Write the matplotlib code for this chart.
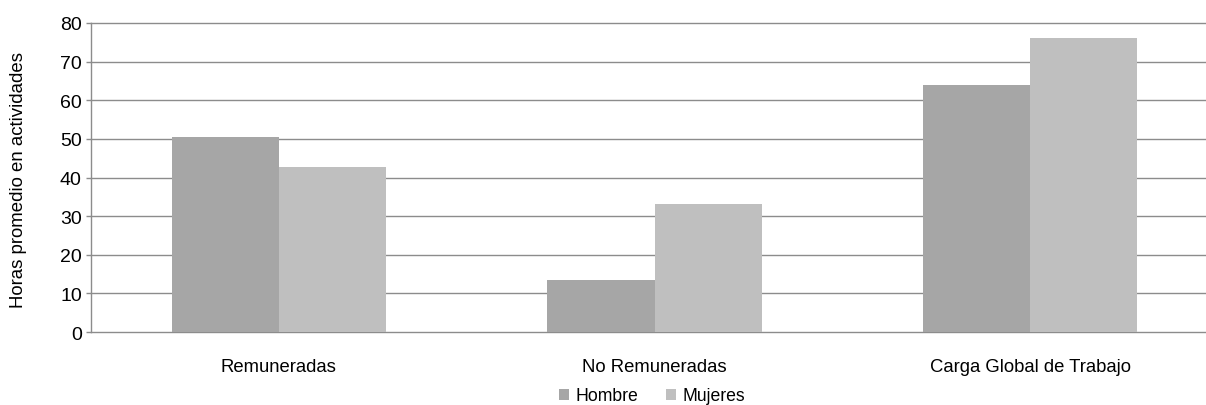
import matplotlib
matplotlib.use("Agg")
import matplotlib.pyplot as plt
import numpy as np

categories = ["Remuneradas", "No Remuneradas", "Carga Global de Trabajo"]
hombre = [50.4, 13.5, 63.9]
mujeres = [42.6, 33.2, 76.1]
series_names = ["Hombre", "Mujeres"]
yticks = [0, 10, 20, 30, 40, 50, 60, 70, 80]

plt.rcParams['font.family'] = ['Liberation Sans', 'DejaVu Sans']

W, H = 1206, 406
fig = plt.figure(figsize=(W / 100, H / 100), dpi=100)
ax = fig.add_axes([91 / W, 1 - 333 / H, (1206 - 91) / W, (333 - 24) / H])

x = np.arange(len(categories))
bw = 0.285
c_h = "#A6A6A6"
c_m = "#BFBFBF"
ax.bar(x - bw / 2, hombre, width=bw, color=c_h, label=series_names[0], zorder=3)
ax.bar(x + bw / 2, mujeres, width=bw, color=c_m, label=series_names[1], zorder=3)

ax.set_xlim(-0.5, 2.468)
ax.set_ylim(0, 80)
ax.set_yticks(yticks)
ax.set_yticklabels([str(v) for v in yticks], fontsize=14)
ax.set_xticks(x)
ax.set_xticklabels(categories, fontsize=13.3)
ax.tick_params(axis='x', length=0, pad=19)
ax.tick_params(axis='y', length=3.6, width=1, color="#8C8C8C", pad=3)
ax.grid(axis='y', color="#8C8C8C", linewidth=1, zorder=0)
for gl in ax.get_ygridlines():
    gl.set_clip_on(False)
for s in ["top", "right", "bottom"]:
    ax.spines[s].set_visible(False)
ax.spines["left"].set_color("#8C8C8C")
ax.spines["left"].set_linewidth(1)

fig.text(19 / W, 1 - 180 / H, "Horas promedio en actividades", rotation=90,
         fontsize=13.4, ha='center', va='center')

leg = fig.legend(loc='center', bbox_to_anchor=(652 / W, 1 - 397 / H), ncol=2,
                 frameon=False, fontsize=12.7, handlelength=0.55, handleheight=0.55,
                 handletextpad=0.35, columnspacing=1.6, borderaxespad=0, borderpad=0)

fig.savefig("out.png", dpi=100)
